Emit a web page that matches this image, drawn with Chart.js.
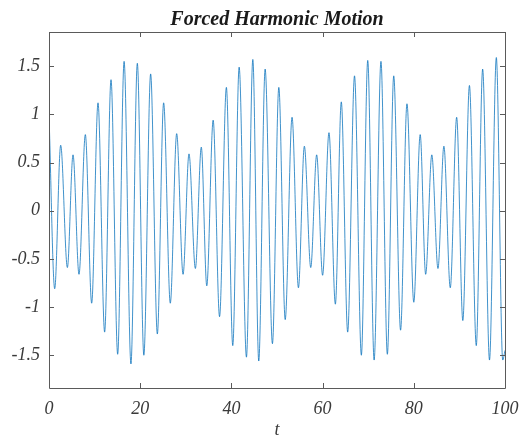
<!DOCTYPE html>
<html><head><meta charset="utf-8">
<script src="https://cdn.jsdelivr.net/npm/chart.js@4.4.1/dist/chart.umd.min.js"></script>
<style>html,body{margin:0;padding:0;background:#fff;}#wrap{width:519px;height:436px;}</style>
</head><body><div id="wrap"><canvas id="c" width="519" height="436"></canvas></div>
<script>
// Extrema of the displacement curve
const times = [0, 1.25, 2.56, 4.03, 5.27, 6.58, 7.97, 9.36, 10.75, 12.2, 13.6, 15.06, 16.47, 17.97, 19.37, 20.8, 22.29, 23.76, 25.14, 26.6, 28.0, 29.4, 30.7, 32.1, 33.4, 34.6, 36.0, 37.4, 38.9, 40.3, 41.7, 43.3, 44.7, 46.0, 47.4, 49.0, 50.4, 51.8, 53.3, 54.7, 56.0, 57.4, 58.7, 60.0, 61.4, 62.8, 64.1, 65.5, 67.0, 68.5, 69.9, 71.3, 72.8, 74.2, 75.6, 77.1, 78.5, 80.0, 81.4, 82.6, 83.95, 85.3, 86.6, 88.0, 89.4, 90.75, 92.2, 93.7, 95.1, 96.6, 98.1, 99.5, 100];
const displacement = [1.00, -0.81, 0.68, -0.59, 0.58, -0.66, 0.79, -0.96, 1.12, -1.26, 1.36, -1.49, 1.55, -1.59, 1.53, -1.50, 1.42, -1.28, 1.12, -0.96, 0.80, -0.66, 0.59, -0.60, 0.66, -0.78, 0.94, -1.10, 1.28, -1.40, 1.49, -1.52, 1.57, -1.56, 1.47, -1.38, 1.28, -1.13, 0.97, -0.80, 0.67, -0.59, 0.58, -0.67, 0.81, -0.97, 1.13, -1.26, 1.40, -1.50, 1.56, -1.55, 1.55, -1.49, 1.40, -1.24, 1.11, -0.95, 0.79, -0.66, 0.58, -0.60, 0.67, -0.80, 0.97, -1.14, 1.30, -1.40, 1.47, -1.55, 1.59, -1.55, -1.45];
const xTicks = [0, 20, 40, 60, 80, 100];
const yTicks = [-1.5, -1, -0.5, 0, 0.5, 1, 1.5];
const titleText = 'Forced Harmonic Motion';
const xLabel = 't';

const points = times.map((t, i) => ({x: t, y: displacement[i]}));
const tickFont = {family: 'Liberation Serif', style: 'italic', size: 18};
const textColor = '#3a3a3a';
const boxColor = '#5a5a5a';

const boxPlugin = {
  id: 'boxTicks',
  afterDraw(chart) {
    const {ctx, chartArea: a, scales: {x, y}} = chart;
    ctx.save();
    ctx.strokeStyle = boxColor;
    ctx.lineWidth = 1;
    ctx.beginPath();
    ctx.rect(Math.round(a.left) + 0.5, Math.round(a.top) + 0.5, Math.round(a.right - a.left), Math.round(a.bottom - a.top));
    const L = 5;
    xTicks.forEach(v => {
      const px = Math.round(x.getPixelForValue(v)) + 0.5;
      ctx.moveTo(px, a.bottom); ctx.lineTo(px, a.bottom - L);
      ctx.moveTo(px, a.top); ctx.lineTo(px, a.top + L);
    });
    yTicks.forEach(v => {
      const py = Math.round(y.getPixelForValue(v)) + 0.5;
      ctx.moveTo(a.left, py); ctx.lineTo(a.left + L, py);
      ctx.moveTo(a.right, py); ctx.lineTo(a.right - L, py);
    });
    ctx.stroke();
    ctx.fillStyle = '#1a1a1a';
    ctx.font = 'italic bold 20px "Liberation Serif"';
    ctx.textAlign = 'center';
    ctx.textBaseline = 'alphabetic';
    ctx.fillText(titleText, (a.left + a.right) / 2, 25);
    ctx.restore();
  }
};

new Chart(document.getElementById('c'), {
  type: 'line',
  data: {datasets: [{
    data: points,
    borderColor: 'rgb(0,110,185)',
    borderWidth: 0.75,
    pointRadius: 0,
    fill: false,
    tension: 0.4,
    cubicInterpolationMode: 'monotone'
  }]},
  options: {
    responsive: false,
    animation: false,
    devicePixelRatio: 1,
    layout: {padding: {top: 32, right: 14, left: 0, bottom: 0}},
    plugins: {legend: {display: false}, tooltip: {enabled: false}, title: {display: false}},
    scales: {
      x: {
        type: 'linear', min: 0, max: 100,
        afterBuildTicks: s => { s.ticks = xTicks.map(v => ({value: v})); },
        afterFit: s => { s.height = 48; s.paddingLeft = 0; s.paddingRight = 0; },
        grid: {display: false, drawTicks: false},
        border: {display: false},
        ticks: {font: tickFont, color: textColor, padding: 10, maxRotation: 0, autoSkip: false, callback: v => String(v)},
        title: {display: true, text: xLabel, color: textColor, font: {family: 'Liberation Serif', style: 'italic', size: 18, lineHeight: 0.6}, padding: {top: 0, bottom: 0}}
      },
      y: {
        type: 'linear', min: -1.84, max: 1.855,
        afterBuildTicks: s => { s.ticks = yTicks.map(v => ({value: v})); },
        afterFit: s => { s.width = 49; s.paddingTop = 0; s.paddingBottom = 0; },
        grid: {display: false, drawTicks: false},
        border: {display: false},
        ticks: {font: tickFont, color: textColor, padding: 9, autoSkip: false, callback: v => String(v)}
      }
    }
  },
  plugins: [boxPlugin]
});
</script>
</body></html>
